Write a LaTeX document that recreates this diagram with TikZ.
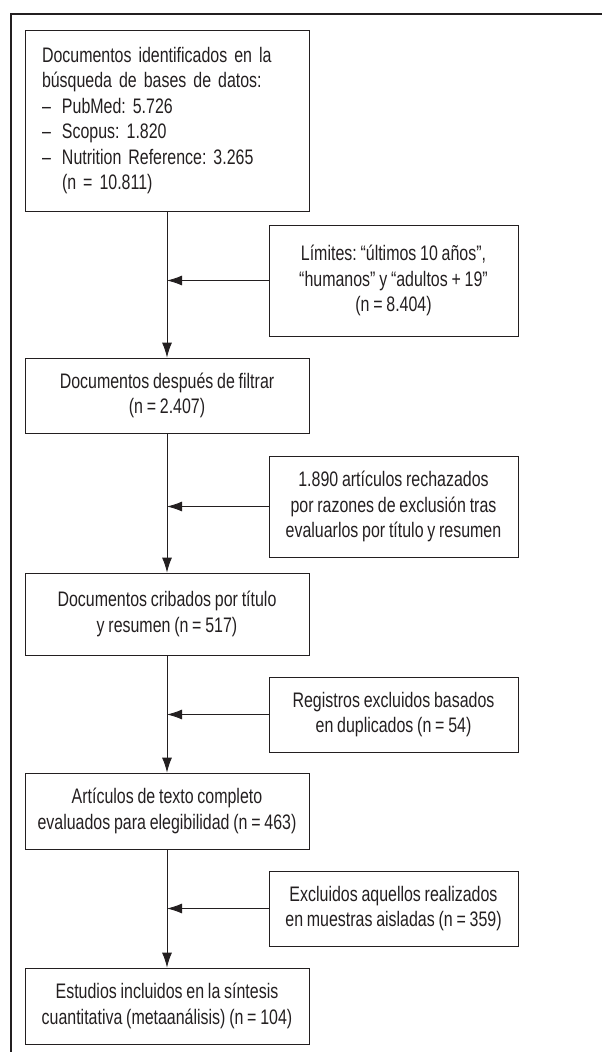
\documentclass[tikz,border=0pt]{standalone}
\usepackage{fontspec}
\setmainfont{Liberation Sans}[FakeStretch=0.76, WordSpace=0.85]
\usetikzlibrary{arrows.meta}
\definecolor{tinta}{HTML}{231F20}
\newcommand{\guion}[1]{\makebox[20pt][l]{--}#1}
\frenchspacing

\begin{document}
\begin{tikzpicture}[x=1pt, y=-1pt,
    every node/.style={draw=tinta, line width=0.9pt, text=tinta, inner sep=0pt,
        align=center, font=\fontsize{21}{25.5}\selectfont},
    izq/.style={minimum width=284pt, minimum height=#1},
    der/.style={minimum width=249pt, minimum height=#1},
    flecha/.style={draw=tinta, line width=0.9pt, -{Latex[length=15pt, width=10pt]}}]
        \clip (0,0) rectangle (602,1052);
        % Marco
        \draw[tinta, line width=2.6pt] (11,1060) -- (11,14) -- (610,14);

        % Columna principal
        \node (A) at (167,120.5) [izq=181pt, align=left, text width=250pt]
            {Documentos identificados en la\\
             búsqueda de bases de datos:\\
             \guion{PubMed: 5.726}\\
             \guion{Scopus: 1.820}\\
             \guion{Nutrition Reference: 3.265}\\
             \hspace*{20pt}(n = 10.811)};
        \node (B) at (167,395.5) [izq=75pt] {Documentos después de filtrar\\(n = 2.407)};
        \node (C) at (167,614) [izq=82pt] {Documentos cribados por título\\y resumen (n = 517)};
        \node (D) at (167,811) [izq=76pt] {Artículos de texto completo\\evaluados para elegibilidad (n = 463)};
        \node (E) at (167,1006) [izq=76pt] {Estudios incluidos en la síntesis\\cuantitativa (metaanálisis) (n = 104)};

        % Exclusiones
        \node (F) at (393.5,280.5) [der=111pt] {Límites: “últimos 10 años”,\\“humanos” y “adultos + 19”\\(n = 8.404)};
        \node (G) at (393.5,506.5) [der=101pt] {1.890 artículos rechazados\\por razones de exclusión tras\\evaluarlos por título y resumen};
        \node (H) at (393.5,714.5) [der=75pt] {Registros excluidos basados\\en duplicados (n = 54)};
        \node (I) at (393.5,908.5) [der=75pt] {Excluidos aquellos realizados\\en muestras aisladas (n = 359)};

        % Collegamenti
        \draw[flecha] (A) -- (B);
        \draw[flecha] (B) -- (C);
        \draw[flecha] (C) -- (D);
        \draw[flecha] (D) -- (E);
        \draw[flecha] (F.west) -- (F.west -| A.south);
        \draw[flecha] (G.west) -- (G.west -| A.south);
        \draw[flecha] (H.west) -- (H.west -| A.south);
        \draw[flecha] (I.west) -- (I.west -| A.south);
\end{tikzpicture}
\end{document}
